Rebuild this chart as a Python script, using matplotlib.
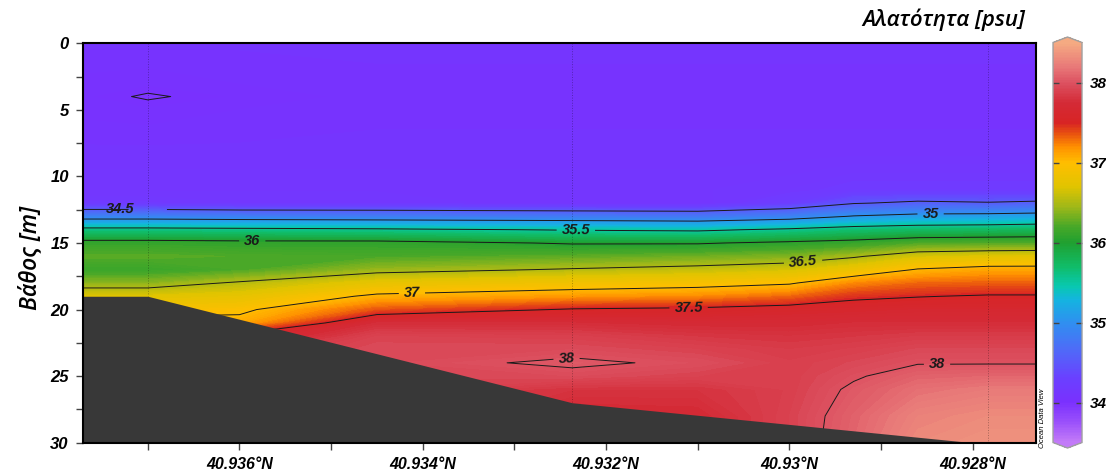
import numpy as np
import matplotlib
matplotlib.use('Agg')
import matplotlib.pyplot as plt
from matplotlib.colors import LinearSegmentedColormap, Normalize
from matplotlib.cm import ScalarMappable

plt.rcParams['font.family'] = ['Liberation Sans', 'DejaVu Sans']

# grid columns along the section (latitude, °N) and depth rows (m)
lat = [40.93771, 40.9370, 40.9360, 40.9345, 40.93237, 40.9310,
       40.9300, 40.9293, 40.9286, 40.92783, 40.92731]
depth = [0, 3, 4, 5, 8, 11, 12, 13, 14, 15, 16, 17, 18, 19, 20,
         21, 22, 23, 24, 25, 26, 28, 30]

# salinity (psu), one row per depth, one value per latitude column
salinity = [
    [34.08, 34.08, 34.08, 34.08, 34.08, 34.08, 34.08, 34.08, 34.08, 34.08, 34.08],
    [34.04, 34.03, 34.05, 34.07, 34.07, 34.07, 34.07, 34.07, 34.07, 34.07, 34.07],
    [34.03, 33.99, 34.03, 34.06, 34.07, 34.07, 34.07, 34.07, 34.07, 34.07, 34.07],
    [34.04, 34.03, 34.05, 34.07, 34.07, 34.07, 34.07, 34.07, 34.07, 34.07, 34.07],
    [34.08, 34.08, 34.08, 34.08, 34.08, 34.08, 34.08, 34.08, 34.08, 34.08, 34.08],
    [34.12, 34.12, 34.12, 34.12, 34.12, 34.12, 34.15, 34.20, 34.20, 34.20, 34.20],
    [34.18, 34.18, 34.15, 34.15, 34.10, 34.10, 34.25, 34.48, 34.55, 34.52, 34.55],
    [34.85, 34.85, 34.82, 34.80, 34.78, 34.75, 34.85, 35.02, 35.10, 35.12, 35.15],
    [35.60, 35.60, 35.58, 35.55, 35.48, 35.45, 35.55, 35.65, 35.70, 35.72, 35.75],
    [36.10, 36.10, 36.08, 36.08, 35.98, 35.98, 36.05, 36.10, 36.20, 36.22, 36.22],
    [36.25, 36.25, 36.22, 36.20, 36.25, 36.30, 36.35, 36.47, 36.65, 36.70, 36.72],
    [36.12, 36.12, 36.20, 36.42, 36.52, 36.58, 36.65, 36.80, 37.02, 37.10, 37.10],
    [36.38, 36.38, 36.53, 36.75, 36.85, 36.90, 36.97, 37.20, 37.30, 37.32, 37.32],
    [36.70, 36.70, 36.75, 37.05, 37.15, 37.20, 37.30, 37.45, 37.49, 37.52, 37.52],
    [36.90, 36.90, 36.95, 37.35, 37.52, 37.55, 37.60, 37.62, 37.65, 37.65, 37.65],
    [37.10, 37.10, 37.08, 37.75, 37.75, 37.72, 37.72, 37.75, 37.75, 37.75, 37.75],
    [37.30, 37.30, 37.60, 37.90, 37.88, 37.82, 37.80, 37.82, 37.85, 37.85, 37.85],
    [37.50, 37.50, 37.80, 37.95, 37.95, 37.90, 37.85, 37.88, 37.93, 37.93, 37.93],
    [37.60, 37.60, 37.85, 37.94, 38.03, 37.97, 37.88, 37.93, 37.99, 37.99, 37.99],
    [37.55, 37.55, 37.85, 37.93, 37.95, 37.90, 37.88, 37.98, 38.08, 38.10, 38.10],
    [37.55, 37.55, 37.85, 37.90, 37.80, 37.80, 37.88, 38.03, 38.15, 38.20, 38.20],
    [37.55, 37.55, 37.85, 37.90, 37.70, 37.72, 37.90, 38.08, 38.25, 38.30, 38.30],
    [37.55, 37.55, 37.85, 37.90, 37.70, 37.72, 37.90, 38.10, 38.30, 38.35, 38.35],
]

# stations and sea bottom
station_lat = [40.9370, 40.93237, 40.92783]
station_depth = [19, 27, 30]
bottom_lat = [40.93771, 40.9370, 40.93237, 40.9280]
bottom_depth = [19, 19, 27, 30]

xtick_vals = [40.936, 40.934, 40.932, 40.930, 40.928]
xtick_labels = ['40.936°N', '40.934°N', '40.932°N', '40.93°N', '40.928°N']
ytick_vals = [0, 5, 10, 15, 20, 25, 30]
cbar_ticks = [34, 35, 36, 37, 38]

# ODV-like rainbow palette
vmin, vmax = 33.5, 38.5
nodes = [
    (33.5, '#c27af8'), (33.75, '#9a50fb'), (34.0, '#7a30fe'), (34.3, '#6a40ff'),
    (34.65, '#4f6af8'), (35.0, '#2f90f0'), (35.28, '#14b4e0'), (35.45, '#08c8b0'),
    (35.7, '#10bc68'), (36.0, '#20a030'), (36.2, '#48a828'), (36.45, '#a0b818'),
    (36.7, '#e0c400'), (37.0, '#ffbe00'), (37.2, '#ff9000'), (37.37, '#e85010'),
    (37.5, '#d82424'), (37.75, '#d42a36'), (38.0, '#dc5060'), (38.2, '#e87878'),
    (38.5, '#f5aa82'),
]
cmap = LinearSegmentedColormap.from_list(
    'odv', [((v - vmin) / (vmax - vmin), c) for v, c in nodes])
cmap.set_under('#c27af8')
cmap.set_over('#f5aa82')
norm = Normalize(vmin, vmax)

fig = plt.figure(figsize=(11.06, 4.71), dpi=100)
ax = fig.add_axes([0.07477, 0.06008, 0.86194, 0.84798])

sal = np.array(salinity)
ax.contourf(lat, depth, sal, levels=np.linspace(vmin, vmax, 201),
            cmap=cmap, norm=norm, zorder=1, antialiased=False)

cs = ax.contour(lat, depth, sal, levels=np.arange(34, 38.01, 0.5),
                colors='#1a1a1a', linewidths=0.7, zorder=2)
label_pos = [(40.9373, 12.5), (40.93586, 14.8), (40.93412, 18.3),
             (40.93233, 14.0), (40.93243, 23.8), (40.93110, 19.8),
             (40.92985, 16.5), (40.92839, 24.0), (40.92846, 12.8)]
labels = ax.clabel(cs, fmt='%g', manual=label_pos, inline=True,
                   inline_spacing=5, fontsize=10.5)
for t in labels:
    t.set_fontweight('bold')
    t.set_fontstyle('italic')

ax.vlines(station_lat, 0, station_depth, colors='k', linestyles=':',
          linewidths=0.7, alpha=0.3, zorder=2)
ax.fill_between(bottom_lat, bottom_depth, 30, color='#383838', lw=0, zorder=3)

ax.set_xlim(40.93771, 40.92731)
ax.set_ylim(30, 0)
ax.set_xticks(xtick_vals)
ax.set_xticklabels(xtick_labels)
ax.set_xticks([40.937, 40.935, 40.933, 40.931, 40.929], minor=True)
ax.set_yticks(ytick_vals)
ax.set_yticks(np.arange(2.5, 30, 5), minor=True)
ax.tick_params(which='both', direction='out', length=5, width=1,
               color='#444444', top=False, right=False)
ax.tick_params(axis='x', pad=5)
ax.tick_params(axis='y', pad=5)
for lab in ax.get_xticklabels():
    lab.set_fontsize(11.5)
    lab.set_fontweight('bold')
    lab.set_fontstyle('italic')
for lab in ax.get_yticklabels():
    lab.set_fontsize(12)
    lab.set_fontweight('bold')
    lab.set_fontstyle('italic')
for s in ax.spines.values():
    s.set_linewidth(1.5)
    s.set_color('black')
    s.set_zorder(5)

fig.text(30 / 1106, 1 - 258 / 471, 'Βάθος [m]', rotation=90, ha='center',
         va='center', fontsize=16.5, style='italic', weight='semibold',
         family='Open Sans')
fig.text(1025 / 1106, 1 - 20 / 471, 'Αλατότητα [psu]', ha='right',
         va='center', fontsize=16, style='italic', weight='semibold',
         family='Open Sans')
fig.text(1043 / 1106, 1 - 418 / 471, 'Ocean Data View', rotation=90,
         ha='center', va='center', fontsize=5.5, style='italic')

cax = fig.add_axes([0.9521, 0.0488, 0.02622, 0.8726])
sm = ScalarMappable(norm=norm, cmap=cmap)
cb = fig.colorbar(sm, cax=cax, extend='both', extendfrac=0.0137,
                  ticks=cbar_ticks)
cb.outline.set_edgecolor('#a0a0a0')
cb.outline.set_linewidth(1)
cax.tick_params(direction='in', left=True, right=True, length=4, width=1,
                color='#444444', pad=6)
for lab in cax.get_yticklabels():
    lab.set_fontsize(11)
    lab.set_fontweight('bold')
    lab.set_fontstyle('italic')

fig.savefig('out.png', dpi=100)
